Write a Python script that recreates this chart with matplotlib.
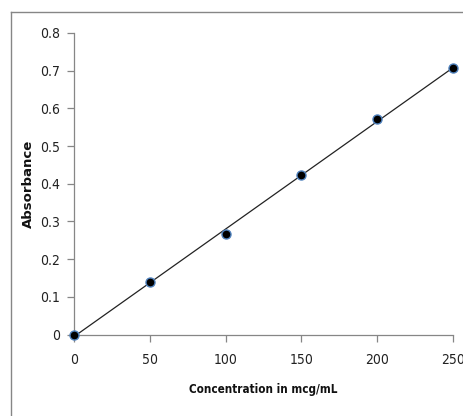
import numpy as np
import matplotlib
matplotlib.use("Agg")
import matplotlib.pyplot as plt
from matplotlib.lines import Line2D

concentration = [0, 50, 100, 150, 200, 250]
absorbance = [0.0, 0.138, 0.267, 0.422, 0.573, 0.707]
x_ticks = [0, 50, 100, 150, 200, 250]
y_ticks = [0, 0.1, 0.2, 0.3, 0.4, 0.5, 0.6, 0.7, 0.8]
y_tick_labels = ["0", "0.1", "0.2", "0.3", "0.4", "0.5", "0.6", "0.7", "0.8"]

W, H = 463, 416
fig = plt.figure(figsize=(W / 100, H / 100), dpi=100)
fam = ["DejaVu Sans"]

ax = fig.add_axes([74 / W, 1 - 334.5 / H, (453 - 74) / W, (334.5 - 33) / H])

# trendline (linear fit)
slope, intercept = np.polyfit(concentration, absorbance, 1)
xs = np.array([0, 250])
ax.plot(xs, slope * xs + intercept, color="#222222", lw=0.9, zorder=2)

ax.plot(concentration, absorbance, linestyle="none", marker="o",
        markersize=6.5, markerfacecolor="black", markeredgecolor="#4F81BD",
        markeredgewidth=1.0, zorder=3, clip_on=False)

ax.set_xlim(0, 250)
ax.set_ylim(0, 0.8)
ax.set_xticks(x_ticks)
ax.set_yticks(y_ticks)
ax.set_yticklabels(y_tick_labels)
for lab in ax.get_xticklabels() + ax.get_yticklabels():
    lab.set_family(fam)
    lab.set_stretch("condensed")
    lab.set_fontsize(10)
    lab.set_color("#222222")

for s in ["top", "right"]:
    ax.spines[s].set_visible(False)
for s in ["left", "bottom"]:
    ax.spines[s].set_color("#868686")
    ax.spines[s].set_linewidth(0.9)
ax.tick_params(axis="both", direction="out", length=5, width=0.9, color="#868686")
ax.tick_params(axis="x", pad=8)
ax.tick_params(axis="y", pad=5)

ax.set_xlabel("Concentration in mcg/mL", family=fam, stretch="condensed", fontsize=8.4,
              fontweight="bold", color="#111111", labelpad=12)
ax.set_ylabel("Absorbance", family=["DejaVu Sans"], fontsize=9.5,
              fontweight="bold", color="#111111", labelpad=4)

# chart area border (only top and left visible in crop)
fig.add_artist(Line2D([11 / W, 11 / W], [0, 1 - 12 / H], transform=fig.transFigure,
                      color="#868686", lw=1.0))
fig.add_artist(Line2D([11 / W, 1], [1 - 12 / H, 1 - 12 / H], transform=fig.transFigure,
                      color="#868686", lw=1.0))

fig.savefig("out.png", dpi=100)
